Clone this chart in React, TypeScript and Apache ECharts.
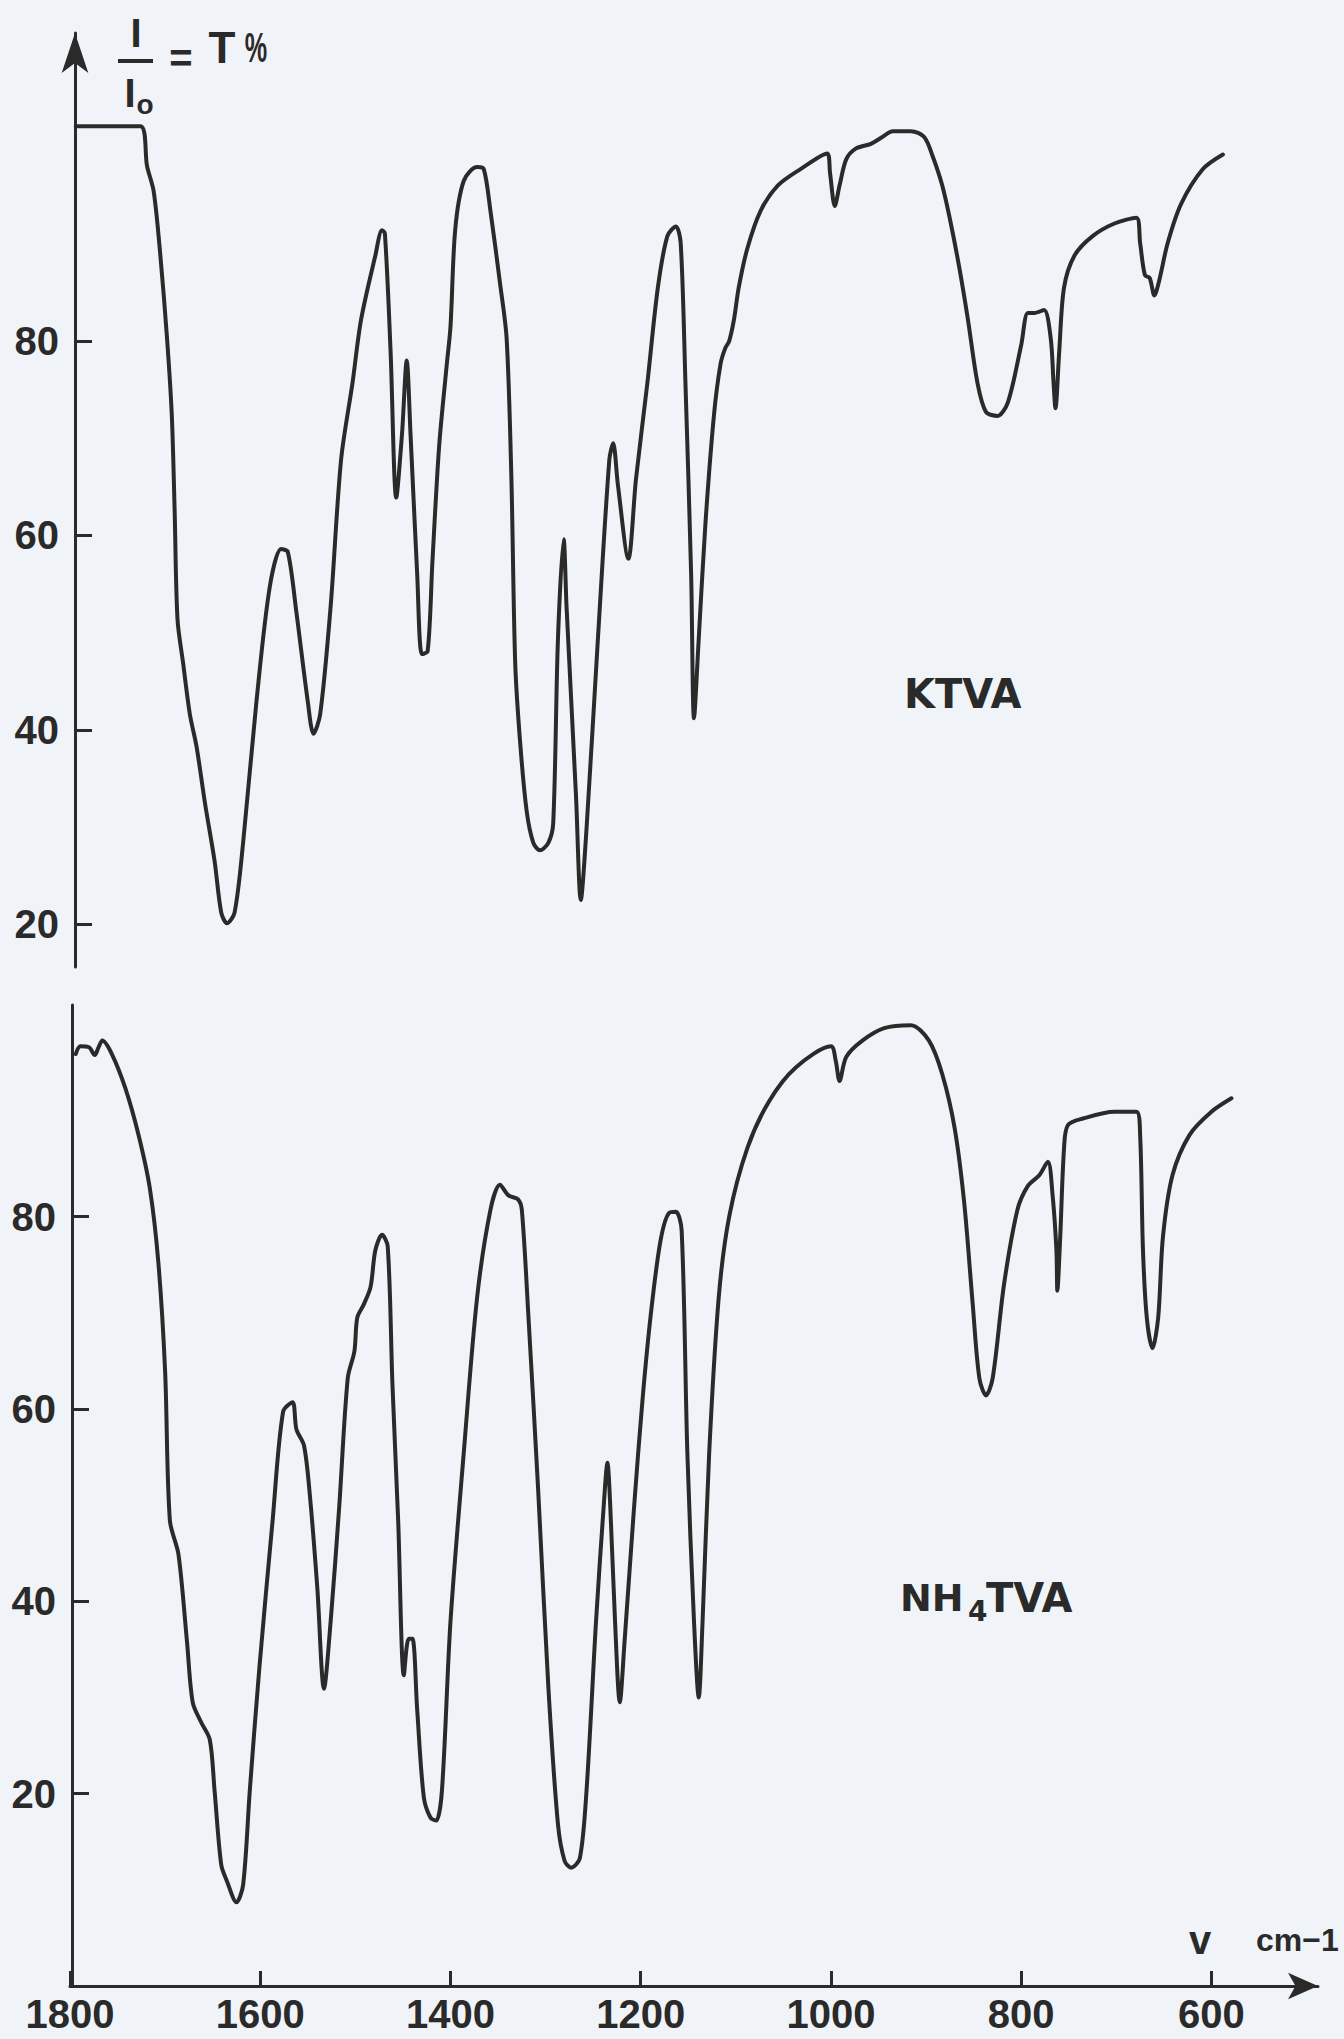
import React, { useEffect, useRef } from "react";
import * as echarts from "echarts";

// ---- axis ticks ----
const xTicks = [1800, 1600, 1400, 1200, 1000, 800, 600];
const upperYTicks = [20, 40, 60, 80];
const lowerYTicks = [20, 40, 60, 80];

// ---- KTVA spectrum (upper panel): wavenumber (cm-1) and transmittance (%) ----
const ktvaWavenumber = [
  1794, 1726, 1719, 1712, 1705, 1698, 1693, 1690, 1687, 1681, 1674, 1667, 1658, 1648, 1641, 1635,
  1627, 1618, 1604, 1590, 1578, 1571, 1562, 1550, 1544, 1537, 1526, 1515, 1503, 1494, 1479, 1472,
  1469, 1463, 1457, 1451, 1446, 1442, 1435, 1430, 1424, 1419, 1412, 1404, 1400, 1395, 1386, 1372,
  1365, 1358, 1348, 1341, 1336, 1332, 1327, 1320, 1313, 1306, 1297, 1292, 1287, 1281, 1278, 1268,
  1263, 1257, 1245, 1233, 1229, 1224, 1213, 1205, 1193, 1182, 1172, 1163, 1158, 1153, 1147, 1144,
  1139, 1132, 1123, 1116, 1111, 1107, 1102, 1097, 1088, 1074, 1056, 1032, 1004, 1001, 996, 991,
  984, 974, 958, 946, 935, 916, 902, 893, 883, 874, 865, 856, 846, 837, 825, 814,
  800, 793, 786, 776, 769, 766, 764, 760, 755, 744, 725, 702, 679, 675, 670, 665,
  660, 655, 646, 632, 609, 588,
];
const ktvaTransmittance = [
  102.1, 102.1, 98.0, 95.4, 88.8, 80.3, 72.4, 62.6, 51.4, 46.8, 41.6, 38.3, 32.4, 26.5, 21.2, 20.1,
  21.2, 28.4, 42.9, 54.7, 58.6, 58.3, 52.1, 42.9, 39.6, 41.6, 52.7, 67.8, 75.7, 82.2, 88.8, 91.4,
  91.1, 79.0, 63.9, 70.4, 78.0, 70.4, 56.0, 47.8, 48.1, 57.3, 69.1, 77.5, 81.5, 91.5, 96.5, 97.9,
  97.7, 93.4, 86.0, 80.3, 66.0, 47.0, 39.0, 31.7, 28.4, 27.6, 28.4, 30.4, 49.4, 59.6, 52.7, 33.1,
  22.5, 29.8, 49.4, 67.8, 69.5, 65.2, 57.6, 65.8, 75.7, 85.5, 90.8, 91.8, 90.1, 75.7, 56.0, 41.2,
  49.4, 61.2, 72.4, 77.7, 79.3, 80.0, 82.2, 85.5, 89.5, 93.4, 96.0, 97.7, 99.3, 97.3, 93.9, 96.0,
  98.7, 99.8, 100.3, 101.0, 101.6, 101.6, 101.0, 99.0, 96.0, 92.1, 87.5, 82.2, 75.7, 72.7, 72.3, 73.7,
  79.6, 82.9, 82.9, 83.2, 80.3, 75.7, 73.1, 79.0, 85.5, 88.8, 90.8, 92.1, 92.7, 90.1, 86.8, 86.5,
  84.7, 86.2, 90.1, 94.1, 97.7, 99.2,
];

// ---- NH4TVA spectrum (lower panel) ----
const nh4tvaWavenumber = [
  1794, 1789, 1780, 1774, 1770, 1766, 1756, 1742, 1728, 1716, 1707, 1700, 1695, 1686, 1677, 1671,
  1662, 1653, 1648, 1641, 1635, 1625, 1618, 1611, 1601, 1587, 1576, 1566, 1562, 1554, 1548, 1540,
  1533, 1526, 1517, 1508, 1501, 1498, 1491, 1484, 1479, 1472, 1466, 1461, 1455, 1449, 1444, 1440,
  1435, 1428, 1421, 1415, 1409, 1400, 1386, 1372, 1358, 1348, 1339, 1329, 1325, 1318, 1308, 1297,
  1287, 1280, 1273, 1264, 1257, 1247, 1239, 1235, 1232, 1227, 1222, 1217, 1207, 1198, 1189, 1179,
  1170, 1163, 1157, 1151, 1144, 1139, 1135, 1128, 1118, 1107, 1088, 1065, 1037, 1000, 995, 991,
  984, 967, 944, 916, 897, 883, 870, 860, 851, 844, 837, 830, 818, 804, 793, 781,
  772, 767, 763, 762, 759, 755, 751, 735, 702, 679, 675, 672, 668, 662, 656, 651,
  641, 623, 600, 579,
];
const nh4tvaTransmittance = [
  96.9, 97.7, 97.6, 96.8, 97.6, 98.3, 96.9, 93.4, 88.5, 82.9, 75.1, 63.9, 48.4, 44.9, 35.8, 29.5,
  27.4, 25.6, 20.3, 12.6, 10.9, 8.7, 10.5, 20.3, 33.0, 48.4, 59.7, 60.7, 57.9, 56.2, 51.2, 41.4,
  30.9, 37.9, 49.8, 63.2, 66.0, 69.5, 70.9, 72.7, 76.5, 78.1, 76.9, 62.5, 48.4, 32.3, 36.1, 36.1,
  28.7, 19.6, 17.5, 17.2, 20.3, 37.9, 55.5, 71.6, 80.7, 83.3, 82.2, 81.8, 80.7, 69.5, 51.9, 30.9,
  16.8, 13.0, 12.3, 13.3, 20.3, 37.9, 49.8, 54.4, 49.8, 37.9, 29.5, 35.8, 49.8, 61.1, 70.2, 77.6,
  80.4, 80.5, 78.6, 55.5, 37.9, 30.0, 37.9, 55.5, 71.6, 80.0, 87.1, 92.0, 95.5, 97.7, 96.2, 94.1,
  96.6, 98.3, 99.6, 99.9, 98.3, 94.8, 89.2, 81.5, 70.9, 63.2, 61.4, 63.2, 73.0, 80.7, 83.2, 84.3,
  85.7, 82.2, 76.5, 72.3, 77.9, 87.1, 89.5, 90.2, 90.9, 90.9, 88.5, 76.5, 69.5, 66.3, 69.5, 77.9,
  84.3, 88.5, 90.9, 92.3,
];

const INK = "#2a2a2a";
const PAPER = "#f0f4f8";
const NUM_FONT = "'Liberation Sans', Arial, sans-serif";
const LABEL_FONT = "'DejaVu Sans', 'Liberation Sans', sans-serif";

function pairs(xs: number[], ys: number[]) {
  return xs.map((x, i) => [x, ys[i]]);
}

export default function App() {
  const ref = useRef<HTMLDivElement>(null);

  useEffect(() => {
    if (!ref.current) return;
    const chart = echarts.init(ref.current, null, { renderer: "svg" });

    const labelStyle = {
      color: INK,
      fontFamily: NUM_FONT,
      fontWeight: "bold" as const,
      fontSize: 40,
    };
    const lineStyle = { color: INK, width: 3 };

    const txt = (
      text: string,
      x: number,
      y: number,
      size: number,
      opts: Record<string, any> = {}
    ) => ({
      type: "text",
      x,
      y,
      silent: true,
      style: {
        text,
        fill: INK,
        fontSize: size,
        fontWeight: opts.weight ?? "bold",
        fontFamily: opts.family ?? NUM_FONT,
        align: opts.align ?? "center",
        verticalAlign: opts.valign ?? "middle",
      },
      scaleX: opts.scaleX ?? 1,
    });

    chart.setOption({
      animation: false,
      backgroundColor: PAPER,
      grid: [
        { left: 70, top: 33, width: 1248, height: 934, outerBoundsMode: "none" },
        { left: 70, top: 1005, width: 1248, height: 981, outerBoundsMode: "none" },
      ],
      xAxis: [
        {
          gridIndex: 0,
          type: "value",
          inverse: true,
          min: 488,
          max: 1800,
          show: false,
        },
        {
          gridIndex: 1,
          type: "value",
          inverse: true,
          min: 488,
          max: 1800,
          axisLine: {
            show: true,
            symbol: ["none", "arrow"],
            symbolSize: [20, 30],
            lineStyle,
          },
          axisTick: {
            show: true,
            inside: true,
            length: 15,
            customValues: xTicks,
            lineStyle,
          },
          axisLabel: {
            customValues: xTicks,
            margin: 8,
            formatter: (v: number) => String(v),
            ...labelStyle,
          },
          splitLine: { show: false },
        },
      ],
      yAxis: [
        {
          gridIndex: 0,
          type: "value",
          min: 15.6,
          max: 111.7,
          offset: -5,
          axisLine: {
            show: true,
            symbol: ["none", "arrow"],
            symbolSize: [20, 40],
            lineStyle,
          },
          axisTick: {
            show: true,
            inside: true,
            length: 17,
            customValues: upperYTicks,
            lineStyle,
          },
          axisLabel: {
            customValues: upperYTicks,
            margin: 16,
            padding: [0, 0, 14, 0],
            formatter: (v: number) => String(v),
            ...labelStyle,
          },
          splitLine: { show: false },
        },
        {
          gridIndex: 1,
          type: "value",
          min: 0,
          max: 102,
          offset: -2,
          axisLine: { show: true, lineStyle },
          axisTick: {
            show: true,
            inside: true,
            length: 17,
            customValues: lowerYTicks,
            lineStyle,
          },
          axisLabel: {
            customValues: lowerYTicks,
            margin: 16,
            padding: [0, 0, 12, 0],
            formatter: (v: number) => String(v),
            ...labelStyle,
          },
          splitLine: { show: false },
        },
      ],
      series: [
        {
          name: "KTVA",
          type: "line",
          xAxisIndex: 0,
          yAxisIndex: 0,
          data: pairs(ktvaWavenumber, ktvaTransmittance),
          showSymbol: false,
          smooth: 0.3,
          lineStyle: { color: INK, width: 4, cap: "round", join: "round" },
        },
        {
          name: "NH4TVA",
          type: "line",
          xAxisIndex: 1,
          yAxisIndex: 1,
          data: pairs(nh4tvaWavenumber, nh4tvaTransmittance),
          showSymbol: false,
          smooth: 0.3,
          lineStyle: { color: INK, width: 4, cap: "round", join: "round" },
        },
      ],
      graphic: [
        // y-axis title  I / Io = T%
        txt("I", 136, 33, 40),
        {
          type: "line",
          silent: true,
          shape: { x1: 118, y1: 61, x2: 153, y2: 61 },
          style: { stroke: INK, lineWidth: 4 },
        },
        txt("I", 130, 93, 40),
        txt("o", 145, 104, 28),
        txt("=", 181, 58, 40),
        txt("T", 222, 47, 44),
        txt("%", 256, 47, 42, { scaleX: 0.6 }),
        // sample labels
        txt("KTVA", 904, 694, 40, { family: LABEL_FONT, align: "left" }),
        txt("NH", 900, 1598, 38, { family: LABEL_FONT, align: "left" }),
        txt("4", 968, 1611, 28, { family: LABEL_FONT, align: "left" }),
        txt("TVA", 986, 1598, 40, { family: LABEL_FONT, align: "left" }),
        // x-axis title
        txt("v", 1200, 1940, 40),
        txt("cm−1", 1256, 1940, 32, { align: "left" }),
      ],
    });

    return () => chart.dispose();
  }, []);

  return (
    <div
      ref={ref}
      style={{ position: "absolute", left: 0, top: 0, width: 1344, height: 2039 }}
    />
  );
}
